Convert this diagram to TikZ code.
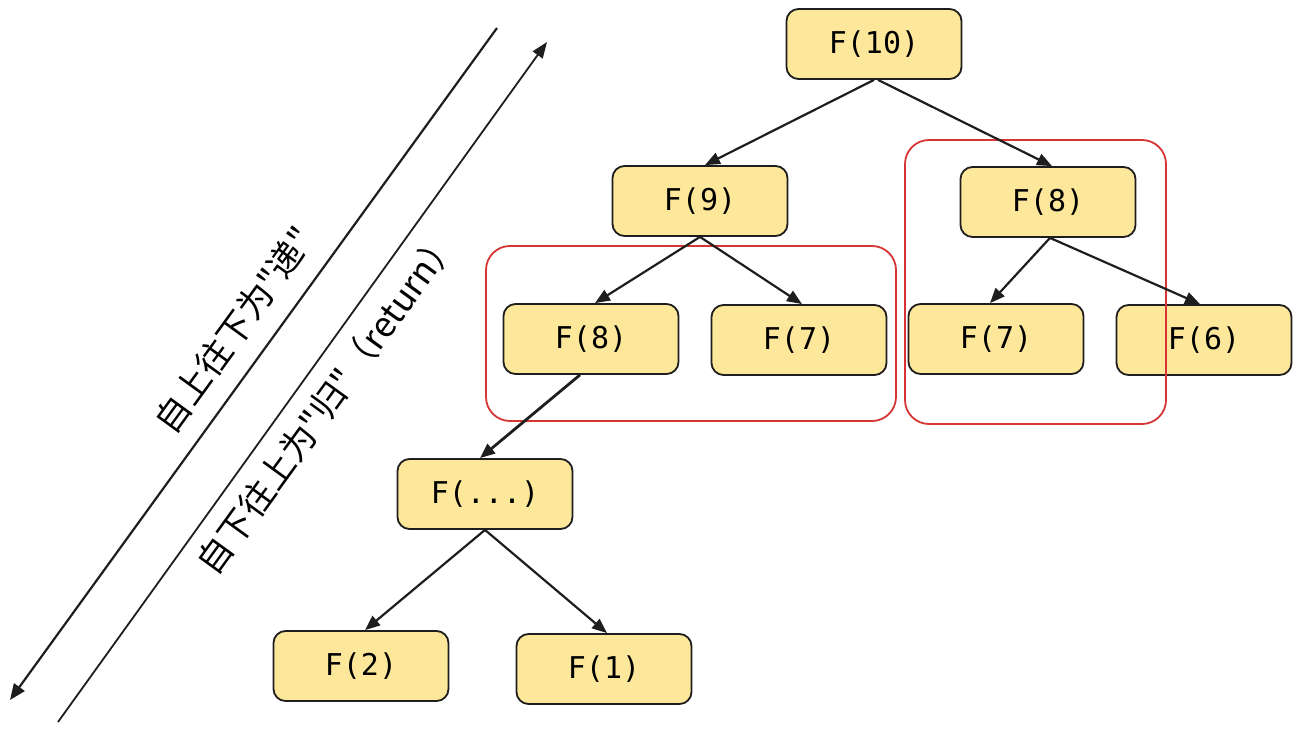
\documentclass[tikz,border=0pt]{standalone}
\usepackage{fontspec}
\setmonofont{DejaVu Sans Mono}
\newfontfamily\cjk{Noto Sans CJK SC}
\usetikzlibrary{arrows.meta}
\definecolor{boxfill}{HTML}{FCE79A}
\definecolor{boxline}{HTML}{1E1E1E}
\definecolor{redline}{HTML}{D63535}
\tikzset{
  fnode/.style={draw=boxline, fill=boxfill, line width=1.8pt, rounded corners=12pt,
    minimum width=175pt, minimum height=70pt, inner sep=0pt,
    font=\ttfamily\fontsize{30}{36}\selectfont},
  redbox/.style={draw=redline, line width=1.8pt, rounded corners=24pt, inner sep=0pt},
  edge/.style={draw=boxline, line width=2.2pt, -{Triangle[length=15pt, width=12pt]}},
  diag/.style={draw=boxline, line width=2.2pt},
  lbl/.style={font=\cjk\fontsize{35}{40}\selectfont, rotate=54, inner sep=0pt}
}
\begin{document}
\begin{tikzpicture}[x=1pt, y=-1pt]
\useasboundingbox (0,0) rectangle (1302,733);
% tree nodes
\node[fnode] (f10) at (874,44) {F(10)};
\node[fnode] (f9) at (700,201) {F(9)};
\node[fnode] (f8r) at (1048,202) {F(8)};
\node[fnode] (f8l) at (591,339) {F(8)};
\node[fnode] (f7m) at (799,340) {F(7)};
\node[fnode] (f7r) at (996,339) {F(7)};
\node[fnode] (f6) at (1204,340) {F(6)};
\node[fnode] (fd) at (485,494) {F(...)};
\node[fnode] (f2) at (361,666) {F(2)};
\node[fnode] (f1) at (604,669) {F(1)};
% red groups
\node[redbox, minimum width=410pt, minimum height=175pt] (g1) at (691,333.5) {};
\node[redbox, minimum width=261pt, minimum height=284pt] (g2) at (1035.5,282) {};
% edges
\draw[edge] (f10.south) -- ([xshift=5pt]f9.north);
\draw[edge] ([xshift=4pt]f10.south) -- ([xshift=4pt]f8r.north);
\draw[edge] (f9.south) -- ([xshift=4pt]f8l.north);
\draw[edge] (f9.south) -- ([xshift=3pt]f7m.north);
\draw[edge] ([xshift=2pt]f8r.south) -- ([xshift=-6pt]f7r.north);
\draw[edge] ([xshift=2pt]f8r.south) -- ([xshift=-4pt]f6.north);
\draw[edge, line width=2.8pt] ([xshift=-11pt]f8l.south) -- ([xshift=-5pt]fd.north);
\draw[edge] (fd.south) -- ([xshift=4pt]f2.north);
\draw[edge] (fd.south) -- ([xshift=3pt]f1.north);
% diagonal arrows
\coordinate (d1a) at (497,28);
\coordinate (d1b) at (10,700);
\coordinate (d2a) at (58,722);
\coordinate (d2b) at (547,42);
\draw[diag, -{Triangle[length=16pt, width=13pt]}] (d1a) -- (d1b);
\draw[diag, line width=1.8pt, -{Triangle[length=16pt, width=12pt]}] (d2a) -- (d2b);
% labels
\node[lbl] (t1) at (234,330) {自上往下为"递"};
\node[lbl] (t2) at (327,402) {自下往上为"归"（return）};
\end{tikzpicture}
\end{document}
